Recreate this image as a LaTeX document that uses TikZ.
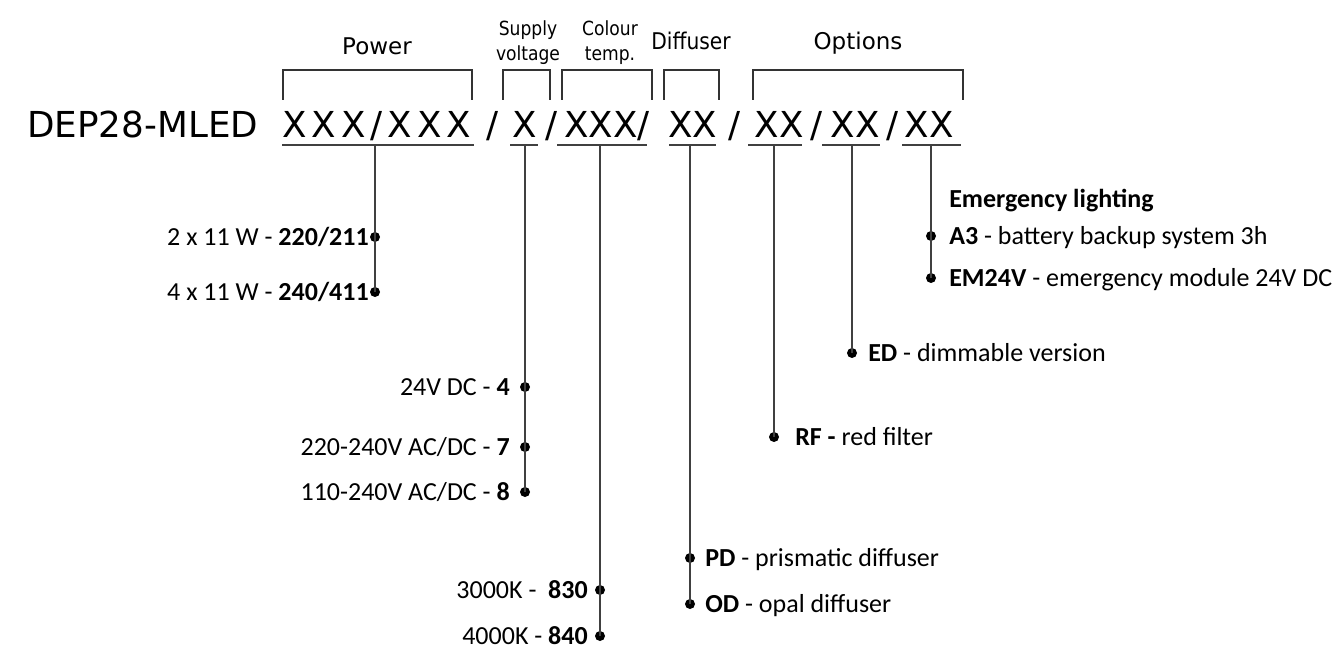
\documentclass[tikz,border=0pt]{standalone}
\usepackage{fontspec}
\setmainfont{Carlito}
\newfontfamily\codefont{DejaVu Sans}
\newfontfamily\codewidefont[LetterSpace=14]{DejaVu Sans}
\newfontfamily\narrowfont[FakeStretch=0.88]{DejaVu Sans}
\usetikzlibrary{positioning}

\tikzset{
  dot/.style={circle,fill=black,inner sep=0pt,minimum size=7.5pt},
  code/.style={font=\codefont\fontsize{26.8}{30}\selectfont,inner sep=0pt,anchor=base},
  codewide/.style={font=\codewidefont\fontsize{26.8}{30}\selectfont,inner sep=0pt,anchor=base west},
  head/.style={font=\codefont\fontsize{17.25}{20}\selectfont,inner sep=0pt,anchor=base},
  headnarrow/.style={font=\narrowfont\fontsize{14.6}{19}\selectfont,inner sep=0pt,anchor=base,align=center},
  lbl/.style={font=\fontsize{19.5}{22}\selectfont,inner sep=0pt},
  bracket/.style={line width=0.9pt,draw=black!80},
  stem/.style={line width=0.9pt,draw=black!75},
}

\begin{document}
\begin{tikzpicture}[x=0.75pt,y=-0.75pt]
   \useasboundingbox (0,0) rectangle (1341,649);

   % 型番
   \node [code,anchor=base west] (model) at (27,138) {DEP28-MLED};
   \node [codewide] (pw) at (282,138) {XXX/XXX};
   \node [code] (sl1) at (493,138) {/};
   \node [code] (sv) at (524.5,138) {X};
   \node [code] (sl2) at (552,138) {/};
   \node [code,anchor=base west] (ct) at (564,138) {XXX/};
   \node [code] (df) at (692.5,138) {XX};
   \node [code] (sl3) at (735,138) {/};
   \node [code] (oa) at (779,138) {XX};
   \node [code] (sl4) at (817,138) {/};
   \node [code] (ob) at (855,138) {XX};
   \node [code] (sl5) at (893,138) {/};
   \node [code] (oc) at (929,138) {XX};

   % 見出し
   \node [head] (hpw) at (377,55) {Power};
   \node [headnarrow] (hsv) at (528,61) {Supply\\voltage};
   \node [headnarrow] (hct) at (610,61) {Colour\\temp.};
   \node [headnarrow,font=\narrowfont\fontsize{17.25}{20}\selectfont] (hdf) at (691,50) {Diffuser};
   \node [head] (hop) at (858,50) {Options};

   % 括弧
   \draw [bracket] (283,100) |- (472,70) -- (472,100);
   \draw [bracket] (503,100) |- (550,70) -- (550,100);
   \draw [bracket] (562,100) |- (652,70) -- (652,100);
   \draw [bracket] (664,100) |- (719,70) -- (719,100);
   \draw [bracket] (753,100) |- (963,70) -- (963,100);

   % 下線
   \draw [stem] (282,145) -- (474,145);
   \draw [stem] (510,145) -- (538,145);
   \draw [stem] (557,145) -- (647,145);
   \draw [stem] (669,145) -- (716,145);
   \draw [stem] (748,145) -- (802,145);
   \draw [stem] (822,145) -- (880,145);
   \draw [stem] (902,145) -- (961,145);
   \coordinate (pwu) at (375,145);
   \coordinate (svu) at (525,145);
   \coordinate (ctu) at (600,145);
   \coordinate (dfu) at (690,145);
   \coordinate (oau) at (774,145);
   \coordinate (obu) at (852,145);
   \coordinate (ocu) at (931,145);

   % 点
   \node [dot] (pw1) at (375,237) {};
   \node [dot] (pw2) at (375,292) {};
   \node [dot] (sv1) at (525,387) {};
   \node [dot] (sv2) at (525,447) {};
   \node [dot] (sv3) at (525,492) {};
   \node [dot] (ct1) at (600,590) {};
   \node [dot] (ct2) at (600,636) {};
   \node [dot] (df1) at (690,558) {};
   \node [dot] (df2) at (690,604) {};
   \node [dot] (oa1) at (774,437) {};
   \node [dot] (ob1) at (852,353) {};
   \node [dot] (oc1) at (931,236) {};
   \node [dot] (oc2) at (931,278) {};

   % 縦線
   \draw [stem] (pwu) -- (pw2.center);
   \draw [stem] (svu) -- (sv3.center);
   \draw [stem] (ctu) -- (ct2.center);
   \draw [stem] (dfu) -- (df2.center);
   \draw [stem] (oau) -- (oa1.center);
   \draw [stem] (obu) -- (ob1.center);
   \draw [stem] (ocu) -- (oc2.center);

   % 説明
   \node [lbl,anchor=base east] (tpw1) at (369,245) {2 x 11 W - \textbf{220/211}};
   \node [lbl,anchor=base east] (tpw2) at (369,300) {4 x 11 W - \textbf{240/411}};
   \node [lbl,anchor=base east] (tsv1) at (510,395) {24V DC - \textbf{4}};
   \node [lbl,anchor=base east] (tsv2) at (510,455) {220-240V AC/DC - \textbf{7}};
   \node [lbl,anchor=base east] (tsv3) at (510,500) {110-240V AC/DC - \textbf{8}};
   \node [lbl,anchor=base east] (tct1) at (588,598) {3000K - \ \textbf{830}};
   \node [lbl,anchor=base east] (tct2) at (588,644) {4000K - \textbf{840}};
   \node [lbl,anchor=base west] (tdf1) at (705,566) {\textbf{PD} - prismatic diffuser};
   \node [lbl,anchor=base west] (tdf2) at (705,612) {\textbf{OD} - opal diffuser};
   \node [lbl,anchor=base west] (toa1) at (795,445) {\textbf{RF -} red filter};
   \node [lbl,anchor=base west] (tob1) at (868,361) {\textbf{ED} - dimmable version};
   \node [lbl,anchor=base west] (toch) at (949,207) {\textbf{Emergency lighting}};
   \node [lbl,anchor=base west] (toc1) at (949,244) {\textbf{A3} - battery backup system 3h};
   \node [lbl,anchor=base west] (toc2) at (949,286) {\textbf{EM24V} - emergency module 24V DC};

\end{tikzpicture}
\end{document}
